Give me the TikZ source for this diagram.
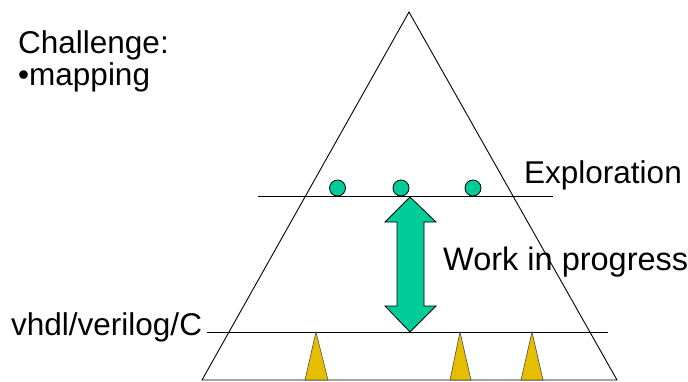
\documentclass[tikz,border=0pt]{standalone}
\usepackage{fontspec}
\setmainfont{Liberation Sans}
\definecolor{teal}{RGB}{0,204,153}
\definecolor{gold}{RGB}{230,190,0}
\tikzset{
  lbl/.style={anchor=base west, inner sep=0pt, font=\fontsize{31.5}{38}\selectfont},
  thinline/.style={line width=0.9pt, black},
  dot/.style={fill=teal, draw=black, line width=0.8pt},
  spike/.style={fill=gold, draw=black!70, line width=0.6pt},
}
\begin{document}
\begin{tikzpicture}[x=1pt,y=-1pt]
\useasboundingbox (0,0) rectangle (688,381);
% pyramid
\draw[thinline] (409,12) -- (202,380) -- (617,380) -- cycle;
% levels
\coordinate (e1) at (258,196); \coordinate (e2) at (553,196);
\coordinate (v1) at (207,332); \coordinate (v2) at (608,332);
\draw[thinline] (e1) -- (e2);
\draw[thinline] (v1) -- (v2);
% circles
\draw[dot] (337.5,188) circle (8);
\draw[dot] (401,188) circle (8);
\draw[dot] (473,188) circle (8);
% double arrow
\draw[fill=teal, draw=black, line width=0.8pt]
  (410,197) -- (436,222) -- (424,222) -- (424,306) -- (436,306) -- (410,332)
  -- (385,306) -- (397,306) -- (397,222) -- (385,222) -- cycle;
% spikes
\draw[spike] (316,332) -- (328,380) -- (305,380) -- cycle;
\draw[spike] (460,332) -- (471,380) -- (450,380) -- cycle;
\draw[spike] (532,332) -- (543,380) -- (521,380) -- cycle;
% texts
\node[lbl] (ch) at (18,53) {Challenge:};
\node[lbl] (mp) at (18,85) {\textbullet mapping};
\node[lbl] (ex) at (524,183) {Exploration};
\node[lbl, font=\fontsize{32.5}{39}\selectfont] (wp) at (443,270) {Work in progress};
\node[lbl] (vh) at (11,335) {vhdl/verilog/C};
\end{tikzpicture}
\end{document}
